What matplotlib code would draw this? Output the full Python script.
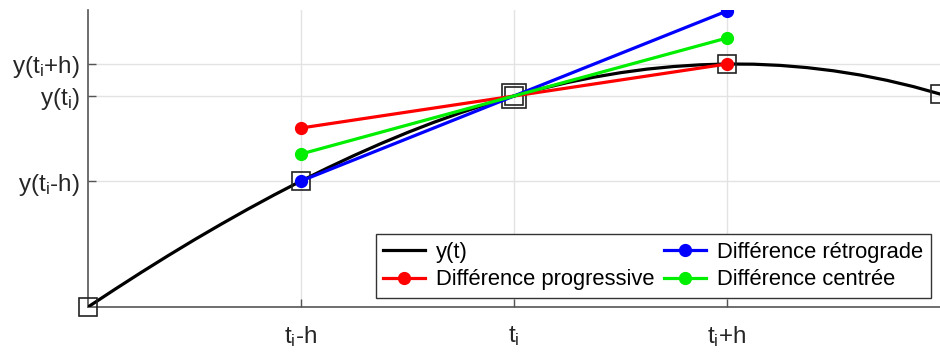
import matplotlib

matplotlib.use("Agg")
import matplotlib.pyplot as plt

plt.rcParams["font.family"] = ["Liberation Sans", "DejaVu Sans"]
plt.rcParams["mathtext.fontset"] = "custom"
plt.rcParams["mathtext.rm"] = "Liberation Sans"
plt.rcParams["mathtext.it"] = "Liberation Sans"
plt.rcParams["mathtext.default"] = "regular"

# curve y(t), sampled every h/8 (h = 1, t_i = 0)
t_curve = [-2.0, -1.875, -1.75, -1.625, -1.5, -1.375, -1.25, -1.125,
           -1.0, -0.875, -0.75, -0.625, -0.5, -0.375, -0.25, -0.125,
           0.0, 0.125, 0.25, 0.375, 0.5, 0.625, 0.75, 0.875,
           1.0, 1.125, 1.25, 1.375, 1.5, 1.625, 1.75, 1.875, 2.0]
y_curve = [0.000, 0.175, 0.346, 0.512, 0.673, 0.828, 0.978, 1.122,
           1.260, 1.391, 1.516, 1.634, 1.745, 1.848, 1.943, 2.031,
           2.110, 2.181, 2.244, 2.298, 2.343, 2.379, 2.405, 2.422,
           2.430, 2.428, 2.416, 2.394, 2.362, 2.320, 2.267, 2.204, 2.130]

# sample points t_i-2h ... t_i+2h
t_nodes = [-2, -1, 0, 1, 2]
y_nodes = [0.00, 1.26, 2.11, 2.43, 2.13]

# tangent approximations, end points at t_i-h and t_i+h
t_seg = [-1, 1]
y_prog = [1.79, 2.43]
y_retro = [1.26, 2.96]
y_centre = [1.53, 2.69]

x_ticks = [-1, 0, 1]
x_labels = ["t$_i$-h", "t$_i$", "t$_i$+h"]
y_ticks = [1.26, 2.11, 2.43]
y_labels = ["y(t$_i$-h)", "y(t$_i$)", "y(t$_i$+h)"]

fig = plt.figure(figsize=(9.4, 3.54), dpi=100)
ax = fig.add_axes([88 / 940, 47 / 354, 852 / 940, 297 / 354])

ax.plot(t_curve, y_curve, color="black", lw=2.3, label="y(t)", zorder=3)
ax.plot(t_nodes, y_nodes, ls="none", marker="s", ms=13, mfc="none",
        mec="#222222", mew=1.2, clip_on=False, zorder=4)
ax.plot([0], [2.11], ls="none", marker="s", ms=17, mfc="none",
        mec="#222222", mew=1.2, zorder=4)
ax.plot(t_seg, y_prog, color="red", lw=2.3, marker="o", ms=8.5,
        label="Différence progressive", zorder=5)
ax.plot(t_seg, y_retro, color="blue", lw=2.3, marker="o", ms=8.5,
        label="Différence rétrograde", zorder=5)
ax.plot(t_seg, y_centre, color="#00ee00", lw=2.3, marker="o", ms=8.5,
        label="Différence centrée", zorder=5)

ax.set_xlim(-2, 2)
ax.set_ylim(0, 2.97)
ax.set_xticks(x_ticks)
ax.set_xticklabels(x_labels, fontsize=17.5)
ax.set_yticks(y_ticks)
ax.set_yticklabels(y_labels, fontsize=17.5)
ax.tick_params(direction="in", length=6, width=1, color="#555555",
               labelcolor="#262626", pad=6)
ax.tick_params(axis="x", pad=12)
ax.grid(True, color="#e3e3e3", lw=1)
ax.set_axisbelow(True)

for side in ["top", "right"]:
    ax.spines[side].set_visible(False)
for side in ["left", "bottom"]:
    ax.spines[side].set_color("#555555")
    ax.spines[side].set_linewidth(1.2)

leg = ax.legend(ncol=2, loc="lower right", bbox_to_anchor=(0.9894, 0.0303),
                borderaxespad=0, fontsize=15.8, fancybox=False, framealpha=1,
                edgecolor="#333333", handlelength=1.9, handletextpad=0.5,
                columnspacing=0.45, labelspacing=0.3, borderpad=0.35)
leg.get_frame().set_linewidth(1)

fig.savefig("out.png", dpi=100)
